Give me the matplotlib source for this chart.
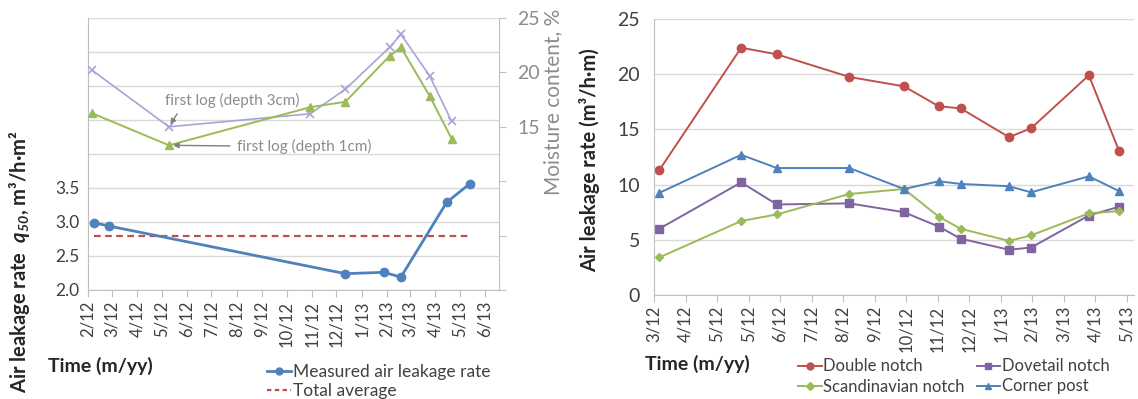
import pandas as pd
import matplotlib
matplotlib.use("Agg")
import matplotlib.pyplot as plt
from matplotlib.lines import Line2D

plt.rcParams['font.family'] = ['Lato', 'DejaVu Sans']
plt.rcParams['mathtext.fontset'] = 'custom'
plt.rcParams['mathtext.bfit'] = 'Lato:bold:italic'
plt.rcParams['mathtext.bf'] = 'Lato:bold'

# ---- left panel: whole wall air leakage + moisture content ----
leak_dates = pd.to_datetime(['2012-02-08', '2012-02-27', '2012-12-12', '2013-01-28',
                             '2013-02-18', '2013-04-15', '2013-05-13'])
leak_q50 = [2.99, 2.94, 2.24, 2.26, 2.19, 3.29, 3.56]
total_average = 2.79

moist_dates = pd.to_datetime(['2012-02-06', '2012-05-10', '2012-10-30', '2012-12-12',
                              '2013-02-04', '2013-02-18', '2013-03-25', '2013-04-21'])
moist_3cm = [20.2, 15.0, 16.2, 18.45, 22.3, 23.5, 19.7, 15.5]
moist_1cm = [16.25, 13.3, 16.8, 17.3, 21.5, 22.3, 17.85, 13.9]

left_ticks = pd.date_range('2012-02-01', '2013-06-01', freq='MS')
left_ticklabels = ['2/12', '3/12', '4/12', '5/12', '6/12', '7/12', '8/12', '9/12', '10/12',
                   '11/12', '12/12', '1/13', '2/13', '3/13', '4/13', '5/13', '6/13']

# ---- right panel: joints ----
notch_dates = pd.to_datetime(['2012-03-07', '2012-05-24', '2012-06-27', '2012-09-04',
                              '2012-10-26', '2012-11-28', '2012-12-19', '2013-02-03',
                              '2013-02-24', '2013-04-20', '2013-05-19'])
double_notch = [11.3, 22.4, 21.8, 19.75, 18.9, 17.1, 16.9, 14.3, 15.1, 19.9, 13.0]
dovetail_notch = [6.0, 10.2, 8.2, 8.3, 7.5, 6.2, 5.1, 4.1, 4.3, 7.2, 8.0]
scandinavian_notch = [3.4, 6.7, 7.3, 9.15, 9.6, 7.1, 6.0, 4.9, 5.4, 7.4, 7.6]
corner_post = [9.25, 12.7, 11.5, 11.5, 9.6, 10.3, 10.06, 9.85, 9.3, 10.75, 9.4]

right_ticks = pd.date_range('2012-03-02', periods=16, freq='30D')
right_ticklabels = ['3/12', '4/12', '5/12', '5/12', '6/12', '7/12', '8/12', '9/12', '10/12',
                    '11/12', '12/12', '1/13', '2/13', '3/13', '4/13', '5/13']

RED = '#C0504D'
BLUE = '#4F81BD'
PURPLE = '#8064A2'
GREEN = '#9BBB59'
LAVENDER = '#A9A3D6'
GRID = '#D9D9D9'
AXIS = '#BFBFBF'
TXT = '#404040'
GRAYTXT = '#8C8C8C'

W, H = 1138, 399
fig = plt.figure(figsize=(W / 100, H / 100), dpi=100)


def box(x0, y0, x1, y1):
    return [x0 / W, 1 - y1 / H, (x1 - x0) / W, (y1 - y0) / H]


def style_axis(ax):
    for s in ['top', 'right']:
        ax.spines[s].set_visible(False)
    ax.spines['left'].set_color(AXIS)
    ax.spines['bottom'].set_color(AXIS)
    ax.yaxis.grid(True, color=GRID, lw=1)
    ax.set_axisbelow(True)
    ax.tick_params(axis='y', length=0, labelsize=12.5, labelcolor=TXT, pad=6)
    ax.tick_params(axis='x', length=5, color=AXIS, direction='out',
                   labelsize=12, labelcolor=TXT, rotation=90, pad=3)


# ================= left panel =================
ax1 = fig.add_axes(box(88, 18, 499, 290))
style_axis(ax1)
ax1.plot(leak_dates, leak_q50, color=BLUE, lw=2, marker='o', ms=6, zorder=4)
ax1.plot([leak_dates[0], leak_dates[-1]], [total_average, total_average],
         color=RED, lw=1.6, ls=(0, (3, 2)), zorder=3)
ax1.set_ylim(2.0, 6.0)
ax1.set_yticks([2.0, 2.5, 3.0, 3.5, 4.0, 4.5, 5.0, 5.5, 6.0])
ax1.set_yticklabels(['2.0', '2.5', '3.0', '3.5', '', '', '', '', ''])
ax1.set_xlim(pd.Timestamp('2012-02-01'), pd.Timestamp('2013-06-18'))
ax1.set_xticks(left_ticks)
ax1.set_xticklabels(left_ticklabels)

ax2 = ax1.twinx()
for s in ['top', 'left', 'bottom']:
    ax2.spines[s].set_visible(False)
ax2.spines['right'].set_color(AXIS)
ax2.plot(moist_dates, moist_3cm, color=LAVENDER, lw=1.2, marker='x', ms=6, mew=1.2)
ax2.plot(moist_dates, moist_1cm, color=GREEN, lw=1.4, marker='^', ms=6)
ax2.set_ylim(0, 25)
ax2.set_yticks([0, 5, 10, 15, 20, 25])
ax2.set_yticklabels(['', '', '', '15', '20', '25'])
ax2.tick_params(axis='y', length=5, color=AXIS, labelsize=14, labelcolor=GRAYTXT, pad=8)

ax2.annotate('first log (depth 3cm)', xy=(moist_dates[1], moist_3cm[1]),
             xytext=(165, H - 100), textcoords='figure pixels', color=GRAYTXT, fontsize=11,
             va='center', ha='left',
             arrowprops=dict(arrowstyle='-|>', color='#7F7F7F', lw=1, shrinkA=3, shrinkB=2,
                             mutation_scale=8, relpos=(0.12, 0.0)))
ax2.annotate('first log (depth 1cm)', xy=(moist_dates[1], moist_1cm[1]),
             xytext=(237, H - 146), textcoords='figure pixels', color=GRAYTXT, fontsize=11,
             va='center', ha='left',
             arrowprops=dict(arrowstyle='-|>', color='#7F7F7F', lw=1, shrinkA=3, shrinkB=3,
                             mutation_scale=8, relpos=(0.0, 0.5)))

fig.text(20 / W, 1 - 262 / H, r'Air leakage rate  $\mathbfit{q}_{\mathbfit{50}}$, m³/h·m²',
         rotation=90, ha='center', va='center', fontsize=14.5, fontweight='bold', color='#262626')
fig.text(553 / W, 1 - 102 / H, 'Moisture content, %', rotation=90, ha='center', va='center',
         fontsize=15, color=GRAYTXT)
fig.text(48 / W, 1 - 366 / H, 'Time (m/yy)', ha='left', va='center', fontsize=14,
         fontweight='bold', color='#262626')

h_meas = Line2D([], [], color=BLUE, lw=2, marker='o', ms=5)
h_avg = Line2D([], [], color=RED, lw=1.6, ls=(0, (2, 1.5)))
fig.legend([h_meas, h_avg], ['Measured air leakage rate', 'Total average'],
           loc='upper left', bbox_to_anchor=(258 / W, 1 - 355 / H), frameon=False,
           fontsize=12.5, handlelength=1.4, handletextpad=0.1, labelspacing=0.2,
           borderpad=0, labelcolor=TXT)

# ================= right panel =================
ax3 = fig.add_axes(box(654, 19, 1134, 295))
style_axis(ax3)
ax3.plot(notch_dates, double_notch, color=RED, lw=1.4, marker='o', ms=6)
ax3.plot(notch_dates, dovetail_notch, color=PURPLE, lw=1.4, marker='s', ms=6)
ax3.plot(notch_dates, scandinavian_notch, color=GREEN, lw=1.4, marker='D', ms=4.5)
ax3.plot(notch_dates, corner_post, color=BLUE, lw=1.4, marker='^', ms=6)
ax3.set_ylim(0, 25)
ax3.set_yticks([0, 5, 10, 15, 20, 25])
ax3.set_xlim(pd.Timestamp('2012-03-02'), pd.Timestamp('2013-06-02'))
ax3.set_xticks(right_ticks)
ax3.set_xticklabels(right_ticklabels)
ax3.tick_params(axis='y', labelsize=14, pad=10)

fig.text(590 / W, 1 - 160 / H, 'Air leakage rate (m³/h·m)', rotation=90, ha='center',
         va='center', fontsize=14.5, fontweight='bold', color='#262626')
fig.text(645 / W, 1 - 364 / H, 'Time (m/yy)', ha='left', va='center', fontsize=14,
         fontweight='bold', color='#262626')

handles = [Line2D([], [], color=RED, lw=1.4, marker='o', ms=5),
           Line2D([], [], color=GREEN, lw=1.4, marker='D', ms=4),
           Line2D([], [], color=PURPLE, lw=1.4, marker='s', ms=5),
           Line2D([], [], color=BLUE, lw=1.4, marker='^', ms=5)]
labels = ['Double notch', 'Scandinavian notch', 'Dovetail notch', 'Corner post']
fig.legend(handles, labels, ncol=2, loc='upper left', bbox_to_anchor=(790 / W, 1 - 350 / H),
           frameon=False, fontsize=12, handlelength=1.4, handletextpad=0.1,
           labelspacing=0.25, columnspacing=0.7, borderpad=0, labelcolor=TXT)

fig.savefig('out.png', dpi=100)
